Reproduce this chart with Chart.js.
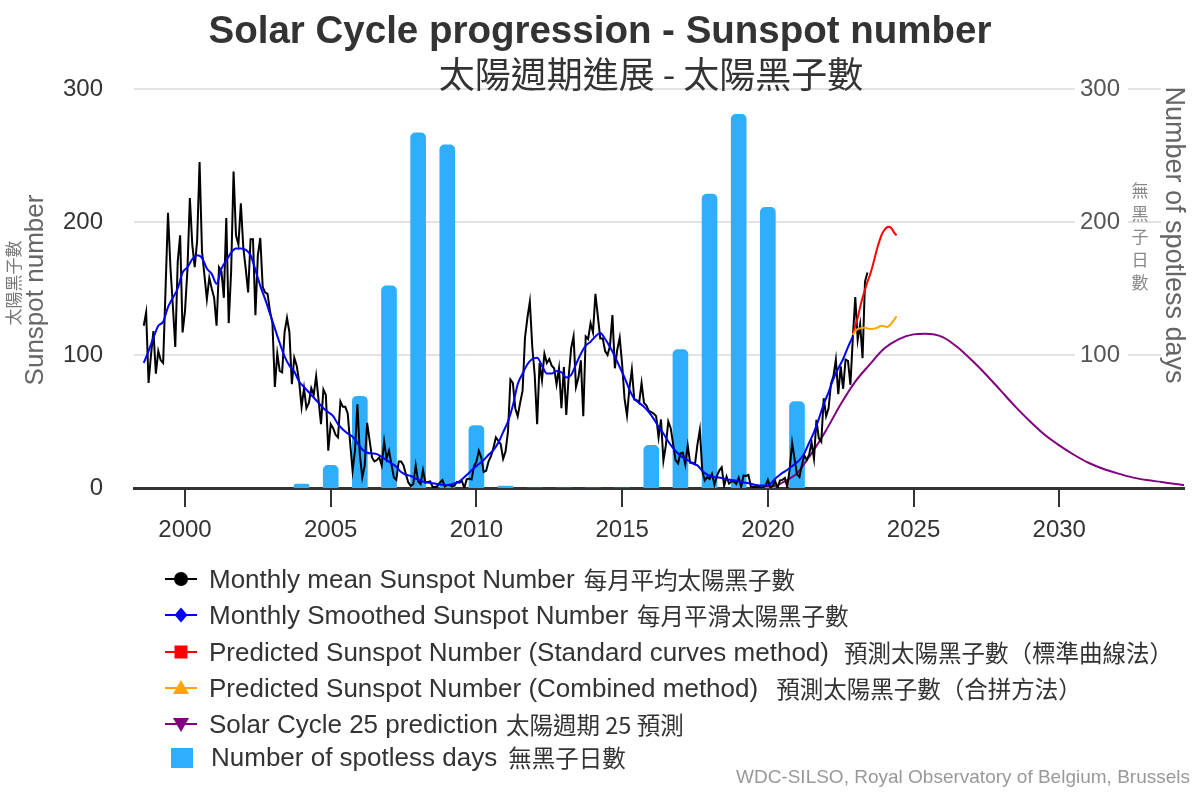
<!DOCTYPE html>
<html>
<head>
<meta charset="utf-8">
<script src="https://cdn.jsdelivr.net/npm/chart.js@4.4.0/dist/chart.umd.min.js"></script>
<style>
  html, body { margin: 0; padding: 0; background: #ffffff; }
  #wrap { width: 1200px; height: 800px; position: relative; }
</style>
</head>
<body>
<div id="wrap"><canvas id="c" width="1200" height="800"></canvas></div>
<script>
// ---------------- DATA ----------------
// Monthly mean sunspot number, first value = Aug 1998
const monthlyStartYear = 1998;
const monthlyStartMonth = 8;
const monthlyMean = [
  122, 132, 79, 100, 118,
  86, 103, 96, 94, 150, 207, 166, 137, 106, 170, 190, 117,
  133, 164, 218, 183, 166, 186, 245, 178, 160, 142, 158, 150,
  143, 122, 166, 163, 143, 203, 124, 163, 238, 190, 183, 214,
  181, 165, 147, 187, 187, 130, 175, 188, 151, 147, 146, 133,
  124, 76, 101, 88, 87, 117, 128, 117, 78, 98, 92, 80,
  61, 75, 60, 64, 75, 70, 84, 66, 48, 74, 70, 28,
  48, 45, 40, 38, 65, 61, 61, 56, 34, 13, 28, 63,
  25, 8, 17, 49, 36, 23, 20, 21, 23, 17, 35, 22,
  28, 18, 8, 6, 20, 20, 17, 10, 4, 1.5, 3, 17,
  5, 3, 13.5, 4, 4.6, 5, 0.7, 0.7, 1.6, 4.2, 6, 1.2,
  2.3, 2.2, 1.1, 1.9, 4.5, 4, 5.4, 0, 6.5, 7.1, 6.5, 16.4,
  19.8, 28, 23, 12, 13, 20, 24, 30, 38, 35.5, 33, 22,
  27.5, 42.6, 81.5, 79, 60, 54, 64, 73, 113, 128, 140, 106,
  85, 48, 94, 81, 101, 94, 97, 92, 90, 78, 90, 60,
  91, 55, 84, 105, 114, 76, 83, 96, 54, 114, 112, 124,
  117, 146, 129, 112.5, 112.5, 103, 100, 107, 130, 90, 104, 113,
  93, 67, 54.5, 75, 89, 66.5, 66, 64, 79, 64, 62, 58,
  57, 56, 54, 38, 51.5, 20.5, 32, 50, 45, 33, 21, 18.5,
  26, 26.5, 17.7, 32, 19, 19, 18, 32.6, 43.7, 13, 5.7, 8.2,
  6.8, 10.7, 2.5, 8.9, 13.1, 15.6, 1.6, 8.7, 3.3, 4.9, 4.9, 3.1,
  7.7, 0.8, 9.4, 9.1, 9.9, 1.2, 0.9, 0.5, 1.1, 0.4, 0.5, 1.5,
  6.2, 0.2, 1.5, 5.2, 0.2, 5.8, 6.1, 7.5, 0.6, 14.4, 34, 21.8,
  10.4, 8.2, 17.2, 24.5, 21.2, 25, 34.3, 22, 51.3, 37.4, 34.8, 67.5,
  54, 59.9, 78.5, 84, 96.5, 70.5, 91.4, 74.6, 96.5, 95.5, 77.6, 113.1,
  143.6, 111.3, 123.1, 97.6, 155, 162
];

// 13-month smoothed sunspot number, read every 2 months from Aug 1998
const smoothedStartYear = 1998;
const smoothedStartMonth = 8;
const smoothedStepMonths = 2;
const smoothedValues = [
  94, 103, 113,
  122, 125, 136, 143, 150, 162,
  166, 172, 175, 173, 165, 161,
  153.5, 165, 171, 177, 180, 180,
  179, 175, 164, 152, 142, 131,
  120, 109, 99, 92, 87.5, 80,
  76, 72, 68, 64, 60, 57,
  54, 48, 44, 41, 38.5, 34,
  29, 26.5, 26, 25.5, 23.5, 21,
  18.5, 16, 12, 10, 9, 7,
  5.5, 4.5, 3.8, 3.3, 2.6, 2.3,
  2.5, 3.5, 5, 8, 11.5, 15,
  18, 21, 25, 28.5, 34, 42,
  50, 62, 78, 86, 93, 97,
  98, 92, 86, 86, 88, 87,
  83, 85, 93, 101, 107, 110,
  114, 116.5, 112, 106, 99, 91,
  83, 74, 67, 64, 61, 57,
  52, 46, 41, 35, 30, 26,
  23, 21, 18.5, 17, 13, 10,
  8.5, 8, 7.5, 6.5, 6, 5.5,
  4.5, 4, 3.2, 2.3, 1.8, 1.8,
  3, 7, 10, 12.5, 15, 18,
  21, 26, 34, 42, 52, 63,
  72, 82, 90, 97, 106, 114
];

// Predictions, monthly from Dec 2022
const predStartYear = 2022;
const predStartMonth = 12;
const predStandard = [115, 122, 128, 136, 143, 149, 155, 160, 166, 173, 180, 186, 191, 194, 196, 196.5, 195, 192, 190];
const predCombined = [115, 118, 119.5, 120, 120.5, 120.5, 120, 119.5, 119.5, 120, 120.5, 121.5, 122, 121.5, 121, 122, 124, 126.5, 129];

// Solar Cycle 25 prediction
const cycle25Years  = [2019.92, 2020.2, 2020.5, 2020.85, 2021.0, 2021.42, 2021.5, 2022.0, 2022.5, 2023.0, 2023.5, 2024.0, 2024.5, 2025.0, 2025.4, 2026.0, 2026.5, 2027.0, 2027.5, 2028.0, 2028.5, 2029.0, 2029.5, 2030.0, 2030.5, 2031.0, 2031.5, 2032.0, 2032.5, 2033.0, 2033.5, 2034.0, 2034.28];
const cycle25Values = [1.5, 1.5, 4, 8.5, 11, 23.5, 26, 43.5, 63, 80, 93, 105, 112, 115.5, 116, 113.5, 106, 96, 85, 73, 61, 50, 40, 32, 25, 19, 14.5, 11, 8, 6, 4.5, 3, 2.3];

// Yearly number of spotless days
const spotlessYears = [2004, 2005, 2006, 2007, 2008, 2009, 2010, 2011, 2012, 2013, 2014, 2015, 2016, 2017, 2018, 2019, 2020, 2021];
const spotlessDays  = [3, 17, 69, 152, 267, 258, 47, 1.5, 0, 0, 0, 0, 32, 104, 221, 281, 211, 65];

// Axis ticks
const xTickYears = [2000, 2005, 2010, 2015, 2020, 2025, 2030];
const leftTickValues = [0, 100, 200, 300];
const rightTickValues = [100, 200, 300];
const gridValues = [100, 200, 300];

// Text
const titleText = 'Solar Cycle progression - Sunspot number';
const subtitleText = '太陽週期進展 - 太陽黑子數';
const leftTitleEn = 'Sunspot number';
const leftTitleZh = '太陽黑子數';
const rightTitleEn = 'Number of spotless days';
const rightTitleZh = '無黑子日數';
const creditText = 'WDC-SILSO, Royal Observatory of Belgium, Brussels';
const legendEn = [
  'Monthly mean Sunspot Number',
  'Monthly Smoothed Sunspot Number',
  'Predicted Sunspot Number (Standard curves method)',
  'Predicted Sunspot Number (Combined method)',
  'Solar Cycle 25 prediction',
  'Number of spotless days'
];
const legendZh = [
  '每月平均太陽黑子數',
  '每月平滑太陽黑子數',
  '預測太陽黑子數（標準曲線法）',
  '預測太陽黑子數（合拼方法）',
  '太陽週期 25 預測',
  '無黑子日數'
];

// ---------------- BUILD ----------------
function monthlyPoints(startYear, startMonth, stepMonths, values) {
  return values.map((v, i) => ({ x: startYear + (startMonth - 1 + i * stepMonths) / 12, y: v }));
}
function pairPoints(xs, ys) { return xs.map((x, i) => ({ x: x, y: ys[i] })); }

const LATIN = '"Liberation Sans", Arial, Helvetica, sans-serif';
const CJK = '"Noto Sans CJK TC", "Noto Sans CJK SC", sans-serif';

const COLORS = ['#000000', '#0000ff', '#ff0000', '#ffa500', '#800080', '#2eaefc'];
const MARKERS = ['circle', 'diamond', 'square', 'triangle', 'triangleDown', 'bar'];

function drawMarker(ctx, kind, cx, cy, color) {
  ctx.fillStyle = color;
  ctx.beginPath();
  if (kind === 'circle') ctx.arc(cx, cy, 7, 0, Math.PI * 2);
  else if (kind === 'diamond') { ctx.moveTo(cx, cy - 7.5); ctx.lineTo(cx + 6.5, cy); ctx.lineTo(cx, cy + 7.5); ctx.lineTo(cx - 6.5, cy); }
  else if (kind === 'square') ctx.rect(cx - 6.5, cy - 6.5, 13, 13);
  else if (kind === 'triangle') { ctx.moveTo(cx, cy - 8); ctx.lineTo(cx + 8, cy + 6); ctx.lineTo(cx - 8, cy + 6); }
  else if (kind === 'triangleDown') { ctx.moveTo(cx - 8, cy - 6); ctx.lineTo(cx + 8, cy - 6); ctx.lineTo(cx, cy + 8); }
  ctx.closePath();
  ctx.fill();
}

const decor = {
  id: 'decor',
  beforeDatasetsDraw(chart) {
    const { ctx, chartArea: a, scales } = chart;
    ctx.save();
    ctx.strokeStyle = '#e3e3e3';
    ctx.lineWidth = 2;
    gridValues.forEach(v => {
      const py = Math.round(scales.y.getPixelForValue(v));
      ctx.beginPath();
      ctx.moveTo(a.left, py); ctx.lineTo(1075, py);
      ctx.moveTo(1128, py); ctx.lineTo(1161, py);
      ctx.stroke();
    });
    ctx.fillStyle = '#555555';
    ctx.font = '24px ' + LATIN;
    ctx.textAlign = 'left';
    ctx.textBaseline = 'middle';
    rightTickValues.forEach(v => {
      ctx.fillText(String(v), 1080, scales.y2.getPixelForValue(v));
    });
    ctx.restore();
  },
  afterDraw(chart) {
    const ctx = chart.ctx;
    ctx.save();
    ctx.textBaseline = 'middle';
    ctx.fillStyle = '#333333';
    ctx.textAlign = 'center';
    ctx.font = 'bold 38.5px ' + LATIN;
    ctx.fillText(titleText, 600, 32);
    ctx.font = '36px ' + CJK;
    ctx.fillText(subtitleText, 651, 74);

    ctx.save();
    ctx.translate(36, 290); ctx.rotate(-Math.PI / 2);
    ctx.fillStyle = '#666666'; ctx.font = '26px ' + LATIN;
    ctx.fillText(leftTitleEn, 0, 0);
    ctx.restore();
    ctx.save();
    ctx.translate(14, 283); ctx.rotate(-Math.PI / 2);
    ctx.fillStyle = '#777777'; ctx.font = '17px ' + CJK;
    ctx.fillText(leftTitleZh, 0, 0);
    ctx.restore();

    ctx.save();
    ctx.translate(1173, 235); ctx.rotate(Math.PI / 2);
    ctx.fillStyle = '#666666'; ctx.font = '27px ' + LATIN;
    ctx.fillText(rightTitleEn, 0, 0);
    ctx.restore();
    ctx.fillStyle = '#888888'; ctx.font = '17px ' + CJK;
    Array.from(rightTitleZh).forEach((ch, i) => ctx.fillText(ch, 1140, 191 + i * 23));

    const rows = [581, 617, 654, 690, 726, 759];
    const gaps = [9, 9, 15, 18, 8, 11];
    chart.data.datasets.forEach((ds, i) => {
      const y = rows[i];
      const kind = MARKERS[i];
      const col = COLORS[i];
      if (kind === 'bar') {
        ctx.fillStyle = col;
        ctx.fillRect(171, y - 11, 22, 20);
      } else {
        ctx.strokeStyle = col; ctx.lineWidth = 2;
        ctx.beginPath(); ctx.moveTo(165, y - 2); ctx.lineTo(197, y - 2); ctx.stroke();
        drawMarker(ctx, kind, 181, y - 2, col);
      }
      const tx = kind === 'bar' ? 211 : 209;
      ctx.textAlign = 'left';
      ctx.fillStyle = '#333333';
      ctx.font = '26px ' + LATIN;
      ctx.fillText(legendEn[i], tx, y);
      const w = ctx.measureText(legendEn[i]).width;
      ctx.font = '23.5px ' + CJK;
      ctx.fillText(legendZh[i], tx + w + gaps[i], y - 1);
    });

    ctx.textAlign = 'right';
    ctx.fillStyle = '#999999';
    ctx.font = '19px ' + LATIN;
    ctx.fillText(creditText, 1190, 778);
    ctx.restore();
  }
};

Chart.defaults.font.family = LATIN;

new Chart(document.getElementById('c'), {
  type: 'line',
  data: {
    datasets: [
      { label: legendEn[0] + ' ' + legendZh[0], data: monthlyPoints(monthlyStartYear, monthlyStartMonth, 1, monthlyMean),
        borderColor: COLORS[0], borderWidth: 2, pointRadius: 0, tension: 0, order: 4 },
      { label: legendEn[1] + ' ' + legendZh[1], data: monthlyPoints(smoothedStartYear, smoothedStartMonth, smoothedStepMonths, smoothedValues),
        borderColor: COLORS[1], borderWidth: 2, pointRadius: 0, cubicInterpolationMode: 'monotone', order: 3 },
      { label: legendEn[2] + ' ' + legendZh[2], data: monthlyPoints(predStartYear, predStartMonth, 1, predStandard),
        borderColor: COLORS[2], borderWidth: 2, pointRadius: 0, cubicInterpolationMode: 'monotone', order: 2 },
      { label: legendEn[3] + ' ' + legendZh[3], data: monthlyPoints(predStartYear, predStartMonth, 1, predCombined),
        borderColor: COLORS[3], borderWidth: 2, pointRadius: 0, cubicInterpolationMode: 'monotone', order: 1 },
      { label: legendEn[4] + ' ' + legendZh[4], data: pairPoints(cycle25Years, cycle25Values),
        borderColor: COLORS[4], borderWidth: 2, pointRadius: 0, cubicInterpolationMode: 'monotone', order: 5 },
      { type: 'bar', label: legendEn[5] + ' ' + legendZh[5], data: pairPoints(spotlessYears, spotlessDays),
        yAxisID: 'y2', backgroundColor: COLORS[5], borderWidth: 0, barThickness: 15,
        borderRadius: 5, borderSkipped: 'start', grouped: false, order: 10 }
    ]
  },
  options: {
    responsive: false,
    animation: false,
    devicePixelRatio: 1,
    layout: { padding: { left: 0, top: 89, right: 16, bottom: 252 } },
    plugins: { legend: { display: false }, title: { display: false }, tooltip: { enabled: false } },
    scales: {
      x: {
        type: 'linear', min: 1998.25, max: 2034.28, offset: false,
        afterBuildTicks: s => { s.ticks = xTickYears.map(v => ({ value: v })); },
        afterFit: s => { s.height = 60; },
        ticks: { callback: v => String(v), color: '#333333', font: { size: 24 }, padding: 9, maxRotation: 0, autoSkip: false },
        grid: { offset: false, drawOnChartArea: false, drawTicks: true, tickLength: 19, color: '#333333', lineWidth: 2 },
        border: { display: true, color: '#333333', width: 3 }
      },
      y: {
        position: 'left', min: 0, max: 300,
        afterBuildTicks: s => { s.ticks = leftTickValues.map(v => ({ value: v })); },
        afterFit: s => { s.width = 134; },
        ticks: { color: '#333333', font: { size: 24 }, padding: 31 },
        grid: { display: false, drawTicks: false },
        border: { display: false }
      },
      y2: { position: 'right', display: false, min: 0, max: 300 }
    }
  },
  plugins: [decor]
});
</script>
</body>
</html>
